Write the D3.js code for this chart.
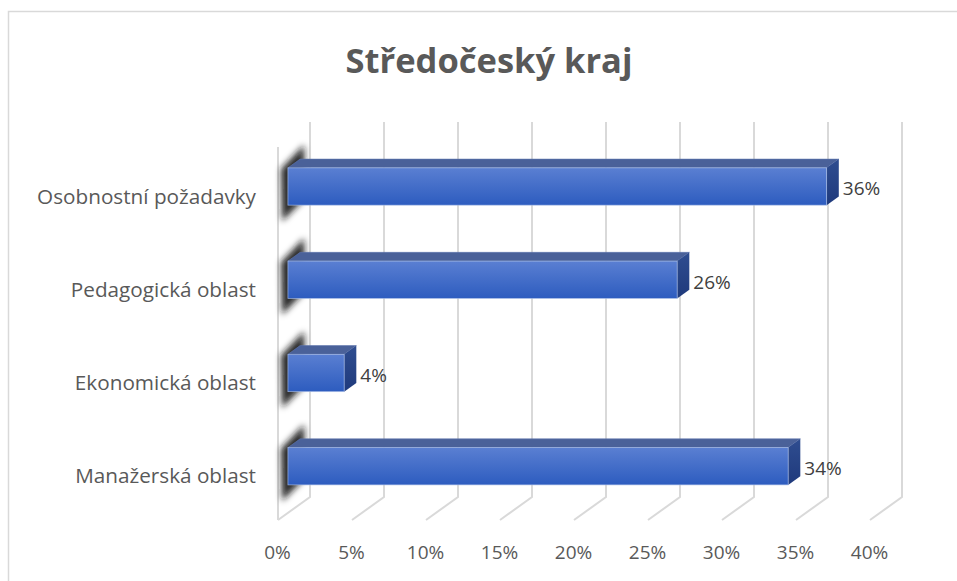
<!DOCTYPE html>
<html>
<head>
<meta charset="utf-8">
<script src="https://cdn.jsdelivr.net/npm/d3@7"></script>
<style>
html,body{margin:0;padding:0;background:#fff;}
svg{display:block;}
</style>
</head>
<body>
<svg id="chart" width="957" height="581"></svg>
<script>
const title = "Středočeský kraj";
const categories = ["Osobnostní požadavky", "Pedagogická oblast", "Ekonomická oblast", "Manažerská oblast"];
const values = [0.364, 0.263, 0.038, 0.338];
const tickValues = [0, 0.05, 0.10, 0.15, 0.20, 0.25, 0.30, 0.35, 0.40];

const svg = d3.select("#chart");
const FONT = "'Open Sans', 'Noto Sans', sans-serif";

// chart frame
svg.append("rect").attr("x", 8.5).attr("y", 11.5).attr("width", 1000).attr("height", 1000)
  .attr("fill", "#fff").attr("stroke", "#d9d9d9").attr("stroke-width", 1.5);

// geometry
const X0 = 278, TOP = 145, FLOOR = 520;
const DX = 32, DY = -23;           // depth vector (front -> back)
const D1 = 0.31, D2 = 0.69;        // bar depth range

const x = d3.scaleLinear().domain([0, 0.4]).range([0, 592]);
const y = d3.scaleBand().domain(categories).range([147, 520]).paddingInner(0.6).paddingOuter(0.3);
const pctFmt = d3.format(".0%");

const defs = svg.append("defs");
const gFront = defs.append("linearGradient").attr("id", "gFront").attr("x1", 0).attr("y1", 0).attr("x2", 0).attr("y2", 1);
gFront.append("stop").attr("offset", "0%").attr("stop-color", "#5a7fd2");
gFront.append("stop").attr("offset", "100%").attr("stop-color", "#2d5cbf");
const gSide = defs.append("linearGradient").attr("id", "gSide").attr("x1", 0).attr("y1", 0).attr("x2", 0).attr("y2", 1);
gSide.append("stop").attr("offset", "0%").attr("stop-color", "#2f4d90");
gSide.append("stop").attr("offset", "100%").attr("stop-color", "#1f3a7c");
const blur = defs.append("filter").attr("id", "blur").attr("x", "-50%").attr("y", "-50%").attr("width", "200%").attr("height", "200%");
blur.append("feGaussianBlur").attr("stdDeviation", 3.2);

// gridlines (back wall + floor)
const grid = svg.append("g").attr("fill", "none").attr("stroke", "#d9d9d9").attr("stroke-width", 2);
tickValues.forEach(t => {
  const fx = X0 + x(t);
  grid.append("path").attr("d",
    `M${fx + DX},${TOP + DY} L${fx + DX},${FLOOR + DY} L${fx},${FLOOR}`);
});
// left wall front edge
grid.append("path").attr("d", `M${X0},${TOP + 2} L${X0},${FLOOR}`);

// shadows on left wall
const shadows = svg.append("g").attr("filter", "url(#blur)");
categories.forEach((c, i) => {
  const yt = y(c), yb = y(c) + y.bandwidth();
  shadows.append("path")
    .attr("d", `M${X0 + 3},${yt - 6} L${X0 + 26},${yt - 30} L${X0 + 27},${yb - 14} L${X0 + 4},${yb + 9} Z`)
    .attr("fill", "#1a1a1a").attr("opacity", 0.92);
});

// bars
const bars = svg.append("g");
categories.forEach((c, i) => {
  const v = values[i];
  const yt = y(c), yb = y(c) + y.bandwidth();
  const fx0 = X0 + DX * D1, fy = DY * D1;
  const bx0 = X0 + DX * D2, by = DY * D2;
  const xe = x(v);
  // top face
  bars.append("path").attr("d",
    `M${fx0},${yt + fy} L${bx0},${yt + by} L${bx0 + xe},${yt + by} L${fx0 + xe},${yt + fy} Z`)
    .attr("fill", "#4a6199").attr("stroke", "#5d74ad").attr("stroke-width", 0.6);
  // side face
  bars.append("path").attr("d",
    `M${fx0 + xe},${yt + fy} L${bx0 + xe},${yt + by} L${bx0 + xe},${yb + by} L${fx0 + xe},${yb + fy} Z`)
    .attr("fill", "url(#gSide)");
  // front face
  bars.append("rect").attr("x", fx0).attr("y", yt + fy).attr("width", xe).attr("height", y.bandwidth())
    .attr("fill", "url(#gFront)").attr("stroke", "#a9bde6").attr("stroke-width", 0.8).attr("stroke-opacity", 0.8);
  // data label
  svg.append("text").attr("x", bx0 + xe + 4).attr("y", (yt + yb) / 2 + fy + 2)
    .attr("dominant-baseline", "central").attr("font-family", FONT).attr("font-size", 19)
    .attr("fill", "#404040").text(pctFmt(v));
});

// category labels
const catG = svg.append("g");
categories.forEach(c => {
  catG.append("text").attr("x", 256).attr("y", y(c) + y.bandwidth() / 2 + 2)
    .attr("text-anchor", "end").attr("dominant-baseline", "central")
    .attr("font-family", FONT).attr("font-size", 17).attr("fill", "#595959").text(c);
});
// fit category label size to reference width
(function () {
  const el = catG.select("text").node();
  const w = el.getComputedTextLength();
  const fs = 17 * 219 / w;
  catG.selectAll("text").attr("font-size", fs);
})();

// x axis
const xAxis = d3.axisBottom(x).tickValues(tickValues).tickFormat(pctFmt).tickSize(0).tickPadding(0);
const ax = svg.append("g").attr("transform", `translate(${X0 - 1},0)`).call(xAxis);
ax.select(".domain").remove();
ax.selectAll("text").attr("y", 552).attr("dy", null).attr("dominant-baseline", "central")
  .attr("font-family", FONT).attr("font-size", 19).attr("fill", "#595959");

// title
const t = svg.append("text").attr("x", 489).attr("y", 73).attr("text-anchor", "middle")
  .attr("font-family", FONT).attr("font-weight", "bold").attr("font-size", 34)
  .attr("fill", "#595959").text(title);
(function () {
  const w = t.node().getComputedTextLength();
  t.attr("font-size", 34 * 287 / w);
})();
</script>
</body>
</html>
